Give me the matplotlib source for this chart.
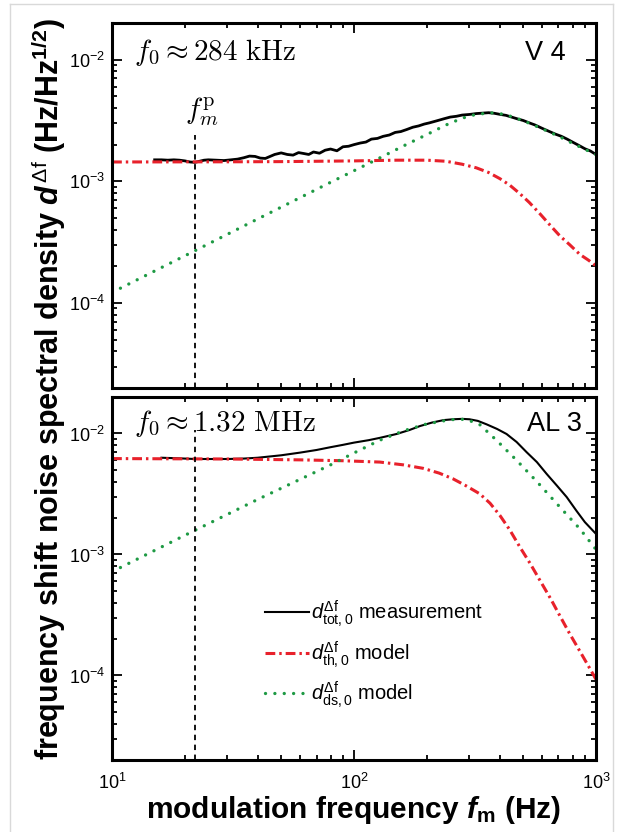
import matplotlib
matplotlib.use("Agg")
import matplotlib.pyplot as plt
from matplotlib.lines import Line2D
from matplotlib.ticker import LogLocator, NullFormatter

plt.rcParams["font.family"] = ["Liberation Sans", "DejaVu Sans"]
plt.rcParams["mathtext.fontset"] = "custom"
plt.rcParams["mathtext.rm"] = "Liberation Sans"
plt.rcParams["mathtext.it"] = "Liberation Sans:italic"
plt.rcParams["mathtext.bf"] = "Liberation Sans:bold"
plt.rcParams["mathtext.bfit"] = "Liberation Sans:italic:bold"

# ---- panel V 4 (f0 ~ 284 kHz) ----
f_meas_v4 = [15, 16, 17, 18, 19, 20, 21, 22, 23, 24, 25, 27, 29, 31, 33, 35, 37, 39,
             41, 43, 45, 47, 50, 53, 56, 59, 62, 65, 68, 72, 76, 80, 85, 90, 95, 100,
             106, 112, 118, 125, 132, 140, 148, 156, 165, 175, 185, 195, 205, 220,
             235, 250, 265, 280, 300, 320, 340, 360, 380, 400, 425, 450, 475, 500,
             530, 560, 600, 640, 680, 720, 760, 800, 850, 900, 950, 1000]
d_tot_v4 = [1.50, 1.50, 1.49, 1.50, 1.49, 1.47, 1.44, 1.43, 1.46, 1.49, 1.50, 1.49,
            1.48, 1.50, 1.52, 1.56, 1.61, 1.60, 1.55, 1.54, 1.60, 1.66, 1.71, 1.66,
            1.64, 1.72, 1.69, 1.66, 1.74, 1.70, 1.80, 1.84, 1.78, 1.92, 1.94, 2.00,
            2.06, 2.10, 2.22, 2.25, 2.34, 2.40, 2.52, 2.56, 2.66, 2.78, 2.85, 2.95,
            3.02, 3.14, 3.26, 3.37, 3.42, 3.50, 3.54, 3.60, 3.63, 3.66, 3.62, 3.55,
            3.48, 3.36, 3.25, 3.16, 3.02, 2.90, 2.72, 2.57, 2.44, 2.34, 2.22, 2.10,
            1.97, 1.85, 1.77, 1.66]

f_th_v4 = [10, 30, 50, 100, 150, 200, 240, 280, 320, 360, 401, 440, 485, 530, 587,
           650, 710, 780, 859, 930, 1000]
d_th_v4 = [1.44, 1.445, 1.45, 1.47, 1.49, 1.49, 1.46, 1.38, 1.29, 1.18, 1.05, 0.93,
           0.79, 0.67, 0.54, 0.43, 0.355, 0.30, 0.25, 0.225, 0.202]

f_ds_v4 = [10, 20, 40, 80, 120, 160, 200, 240, 280, 320, 370, 420, 500, 600, 700,
           800, 900, 1000]
d_ds_v4 = [0.122, 0.244, 0.49, 0.98, 1.46, 1.95, 2.42, 2.90, 3.30, 3.55, 3.65, 3.55,
           3.15, 2.70, 2.35, 2.05, 1.83, 1.66]

# ---- panel AL 3 (f0 ~ 1.32 MHz) ----
f_meas_al3 = [16, 18, 20, 22, 25, 30, 35, 40, 50, 60, 70, 80, 90, 100, 115, 128, 150,
              170, 187, 210, 235, 257, 280, 300, 325, 353, 390, 427, 470, 517, 570,
              625, 690, 757, 830, 900, 1000]
d_tot_al3 = [6.3, 6.25, 6.2, 6.15, 6.15, 6.15, 6.2, 6.3, 6.6, 6.95, 7.3, 7.7, 8.05,
             8.4, 8.8, 9.2, 9.9, 10.7, 11.5, 12.3, 12.9, 13.1, 13.2, 13.1, 12.7, 11.9,
             10.9, 9.9, 8.5, 7.0, 5.8, 4.64, 3.7, 2.98, 2.3, 1.85, 1.48]

f_th_al3 = [10, 30, 60, 90, 128, 160, 193, 225, 257, 290, 331, 365, 401, 440, 485,
            535, 587, 650, 710, 780, 859, 930, 1000]
d_th_al3 = [6.2, 6.15, 6.05, 5.95, 5.8, 5.5, 5.15, 4.7, 4.21, 3.7, 3.17, 2.65, 2.1,
            1.6, 1.15, 0.84, 0.61, 0.43, 0.31, 0.22, 0.158, 0.12, 0.093]

f_ds_al3 = [10, 20, 40, 80, 100, 128, 160, 200, 250, 290, 330, 390, 470, 570, 710,
            860, 1000]
d_ds_al3 = [0.72, 1.44, 2.85, 5.5, 6.9, 8.8, 10.5, 12.0, 13.0, 13.1, 11.9, 8.7, 6.0,
            4.0, 2.46, 1.62, 1.1]

f_mp = 22  # f_m^p marker
panels = [
    dict(fm=f_meas_v4, dtot=d_tot_v4, fth=f_th_v4, dth=d_th_v4, fds=f_ds_v4,
         dds=d_ds_v4, f0=r"$f_0 \approx 284\ \mathrm{kHz}$", name="V 4"),
    dict(fm=f_meas_al3, dtot=d_tot_al3, fth=f_th_al3, dth=d_th_al3, fds=f_ds_al3,
         dds=d_ds_al3, f0=r"$f_0 \approx 1.32\ \mathrm{MHz}$", name="AL 3"),
]

RED = "#e8212b"
GREEN = "#1e9a44"

fig = plt.figure(figsize=(6.26, 8.32), dpi=100)
ax_top = fig.add_axes([0.179, 0.5337, 0.773, 0.4387])
ax_bot = fig.add_axes([0.179, 0.0865, 0.773, 0.4363])

for i, (ax, p) in enumerate(zip([ax_top, ax_bot], panels)):
    s = 1e-3
    ax.plot(p["fm"], [v * s for v in p["dtot"]], color="black",
            lw=2.0 if i == 0 else 1.5,
            label=r"$d^{\Delta\mathrm{f}}_{\mathrm{tot,0}}$ measurement")
    ax.plot(p["fth"], [v * s for v in p["dth"]], color=RED, lw=2.2,
            linestyle=(0, (3.2, 1.3, 0.8, 1.3)),
            label=r"$d^{\Delta\mathrm{f}}_{\mathrm{th,0}}$ model")
    ax.plot(p["fds"], [v * s for v in p["dds"]], color=GREEN, lw=2.4,
            linestyle=(0, (0.01, 2.8)), dash_capstyle="round",
            label=r"$d^{\Delta\mathrm{f}}_{\mathrm{ds,0}}$ model")
    ax.axvline(f_mp, ymin=0, ymax=0.693 if i == 0 else 0.909, color="black",
               lw=1.3, linestyle=(0, (3, 2.5)))

    ax.set_xscale("log")
    ax.set_yscale("log")
    ax.set_xlim(10, 1000)
    ax.set_ylim(2e-5, 2e-2)
    ax.yaxis.set_major_locator(LogLocator(base=10, numticks=10))
    ax.yaxis.set_minor_locator(LogLocator(base=10, subs=range(2, 10), numticks=10))
    ax.yaxis.set_minor_formatter(NullFormatter())
    ax.xaxis.set_minor_formatter(NullFormatter())
    ax.tick_params(which="both", direction="in", top=True, right=True, labelsize=13,
                   width=1.3)
    ax.tick_params(axis="x", pad=9)
    ax.tick_params(axis="y", pad=5)
    ax.tick_params(which="major", length=7)
    ax.tick_params(which="minor", length=3.5)
    for sp in ax.spines.values():
        sp.set_linewidth(2.2)

    ax.text(0.045, 0.918 if i == 0 else 0.926, p["f0"], transform=ax.transAxes,
            fontsize=21, va="center", ha="left", math_fontfamily="cm")
    ax.text(0.938 if i == 0 else 0.971, 0.918 if i == 0 else 0.926, p["name"],
            transform=ax.transAxes, fontsize=19.5, va="center", ha="right")

ax_top.tick_params(axis="x", labelbottom=False)
ax_top.text(23.5, 3.7e-3, r"$f_m^{\mathrm{p}}$", fontsize=21, ha="center",
            va="center", math_fontfamily="cm")

ax_bot.legend(loc="upper left", bbox_to_anchor=(0.316, 0.445), frameon=False,
              fontsize=14.5, borderpad=0, borderaxespad=0, handlelength=2.2,
              handletextpad=0.1, labelspacing=0.5)

ax_bot.set_xlabel(r"modulation frequency $\mathbfit{f}_{\mathbf{m}}$ (Hz)",
                  fontsize=21.5, fontweight="bold", labelpad=1)
fig.text(0.077, 0.533,
         r"frequency shift noise spectral density $\mathbfit{d}^{\,\Delta\mathrm{f}}$ (Hz/Hz$^{\mathbf{1/2}}$)",
         rotation=90, fontsize=22, fontweight="bold", ha="center", va="center")

# light frame of the original page
fig.add_artist(Line2D([10 / 626, 10 / 626], [0, 1 - 4 / 832], color="#d9d9d9", lw=1))
fig.add_artist(Line2D([10 / 626, 613 / 626], [1 - 4 / 832, 1 - 4 / 832], color="#d9d9d9", lw=1))
fig.add_artist(Line2D([613 / 626, 613 / 626], [0, 1 - 4 / 832], color="#d9d9d9", lw=1))

fig.savefig("out.png", dpi=100)
